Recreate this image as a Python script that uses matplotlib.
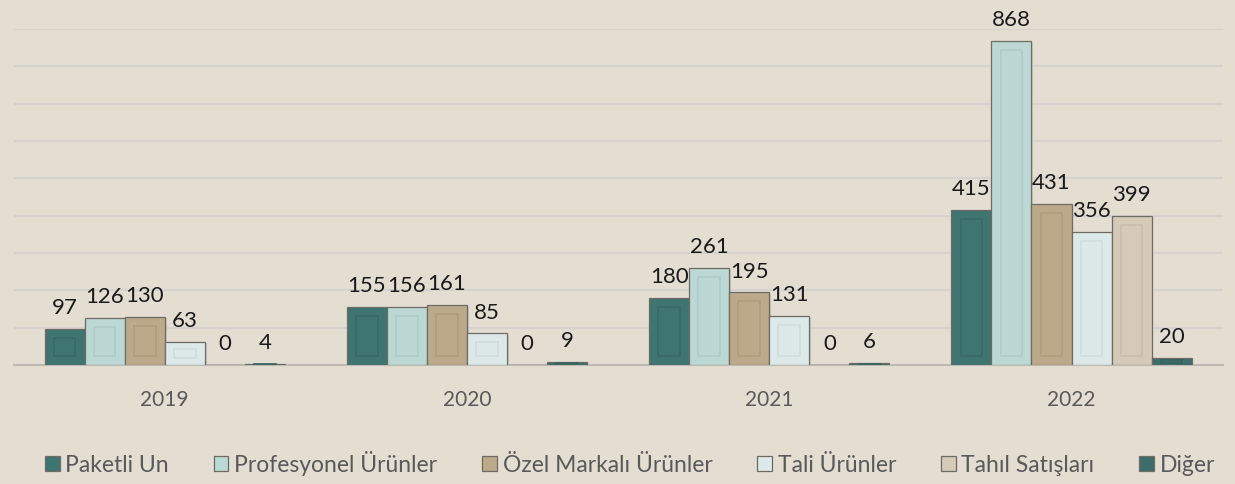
import matplotlib.pyplot as plt
import numpy as np

years = ['2019', '2020', '2021', '2022']
series = ['Paketli Un', 'Profesyonel Ürünler', 'Özel Markalı Ürünler',
          'Tali Ürünler', 'Tahıl Satışları', 'Diğer']
paketli_un = [97, 155, 180, 415]
profesyonel = [126, 156, 261, 868]
ozel_markali = [130, 161, 195, 431]
tali = [63, 85, 131, 356]
tahil = [0, 0, 0, 399]
diger = [4, 9, 6, 20]

values = [paketli_un, profesyonel, ozel_markali, tali, tahil, diger]
colors = ['#3f7571', '#bcd8d4', '#bba98a', '#dde9e8', '#d4cab7', '#3d6e6b']
inner_edges = ['#386965', '#aecbc7', '#ad9c7e', '#cfdddc', '#c8bdaa', '#37645f']

bg = '#e3ddd2'
plt.rcParams['font.family'] = ['Lato', 'DejaVu Sans']

fig = plt.figure(figsize=(12.35, 4.85), dpi=100, facecolor=bg)
ax = fig.add_axes([0.011, 0.245, 0.979, 0.693])
ax.set_facecolor(bg)

x = np.arange(len(years))
w = 0.1325
for i, (vals, c, ie) in enumerate(zip(values, colors, inner_edges)):
    pos = x + (i - 2.5) * w
    # shadow
    ax.bar(pos + 0.006, vals, w, bottom=-4, color='#b5b0a8', alpha=0.5, zorder=2, linewidth=0)
    ax.bar(pos, vals, w, color=c, edgecolor='#6e6a64', linewidth=0.9, zorder=3, label=series[i])
    for p, v in zip(pos, vals):
        if v > 0:
            iy = min(24, 0.3 * v)
            ax.add_patch(plt.Rectangle((p - w * 0.27, iy), w * 0.54, v - 2 * iy,
                                       fill=False, edgecolor=ie, linewidth=1.2, zorder=4))
        ax.annotate(str(v), (p, v), xytext=(0, 8.5), textcoords='offset points',
                    ha='center', va='bottom', fontsize=16,
                    color='#1a1a1a', zorder=5)

ax.set_xlim(-0.5, 3.5)
ax.set_ylim(0, 900)
ax.set_yticks(np.arange(100, 901, 100))
ax.yaxis.grid(True, color='#d6d3cf', linewidth=1.5)
ax.set_axisbelow(True)
ax.tick_params(axis='y', left=False, labelleft=False)
ax.set_xticks(x)
ax.set_xticklabels(years, fontsize=15, color='#595959')
ax.tick_params(axis='x', length=0, pad=17)
for s in ['top', 'right', 'left']:
    ax.spines[s].set_visible(False)
ax.spines['bottom'].set_color('#bdb9b3')
ax.spines['bottom'].set_linewidth(1.5)

leg = fig.legend(loc='lower center', bbox_to_anchor=(0.51, -0.025), ncol=6, frameon=False,
                 handlelength=0.65, handleheight=0.65, handletextpad=0.25,
                 columnspacing=1.95, labelcolor='#595959', prop={'size': 16.5})

fig.savefig('out.png', dpi=100, facecolor=bg)
